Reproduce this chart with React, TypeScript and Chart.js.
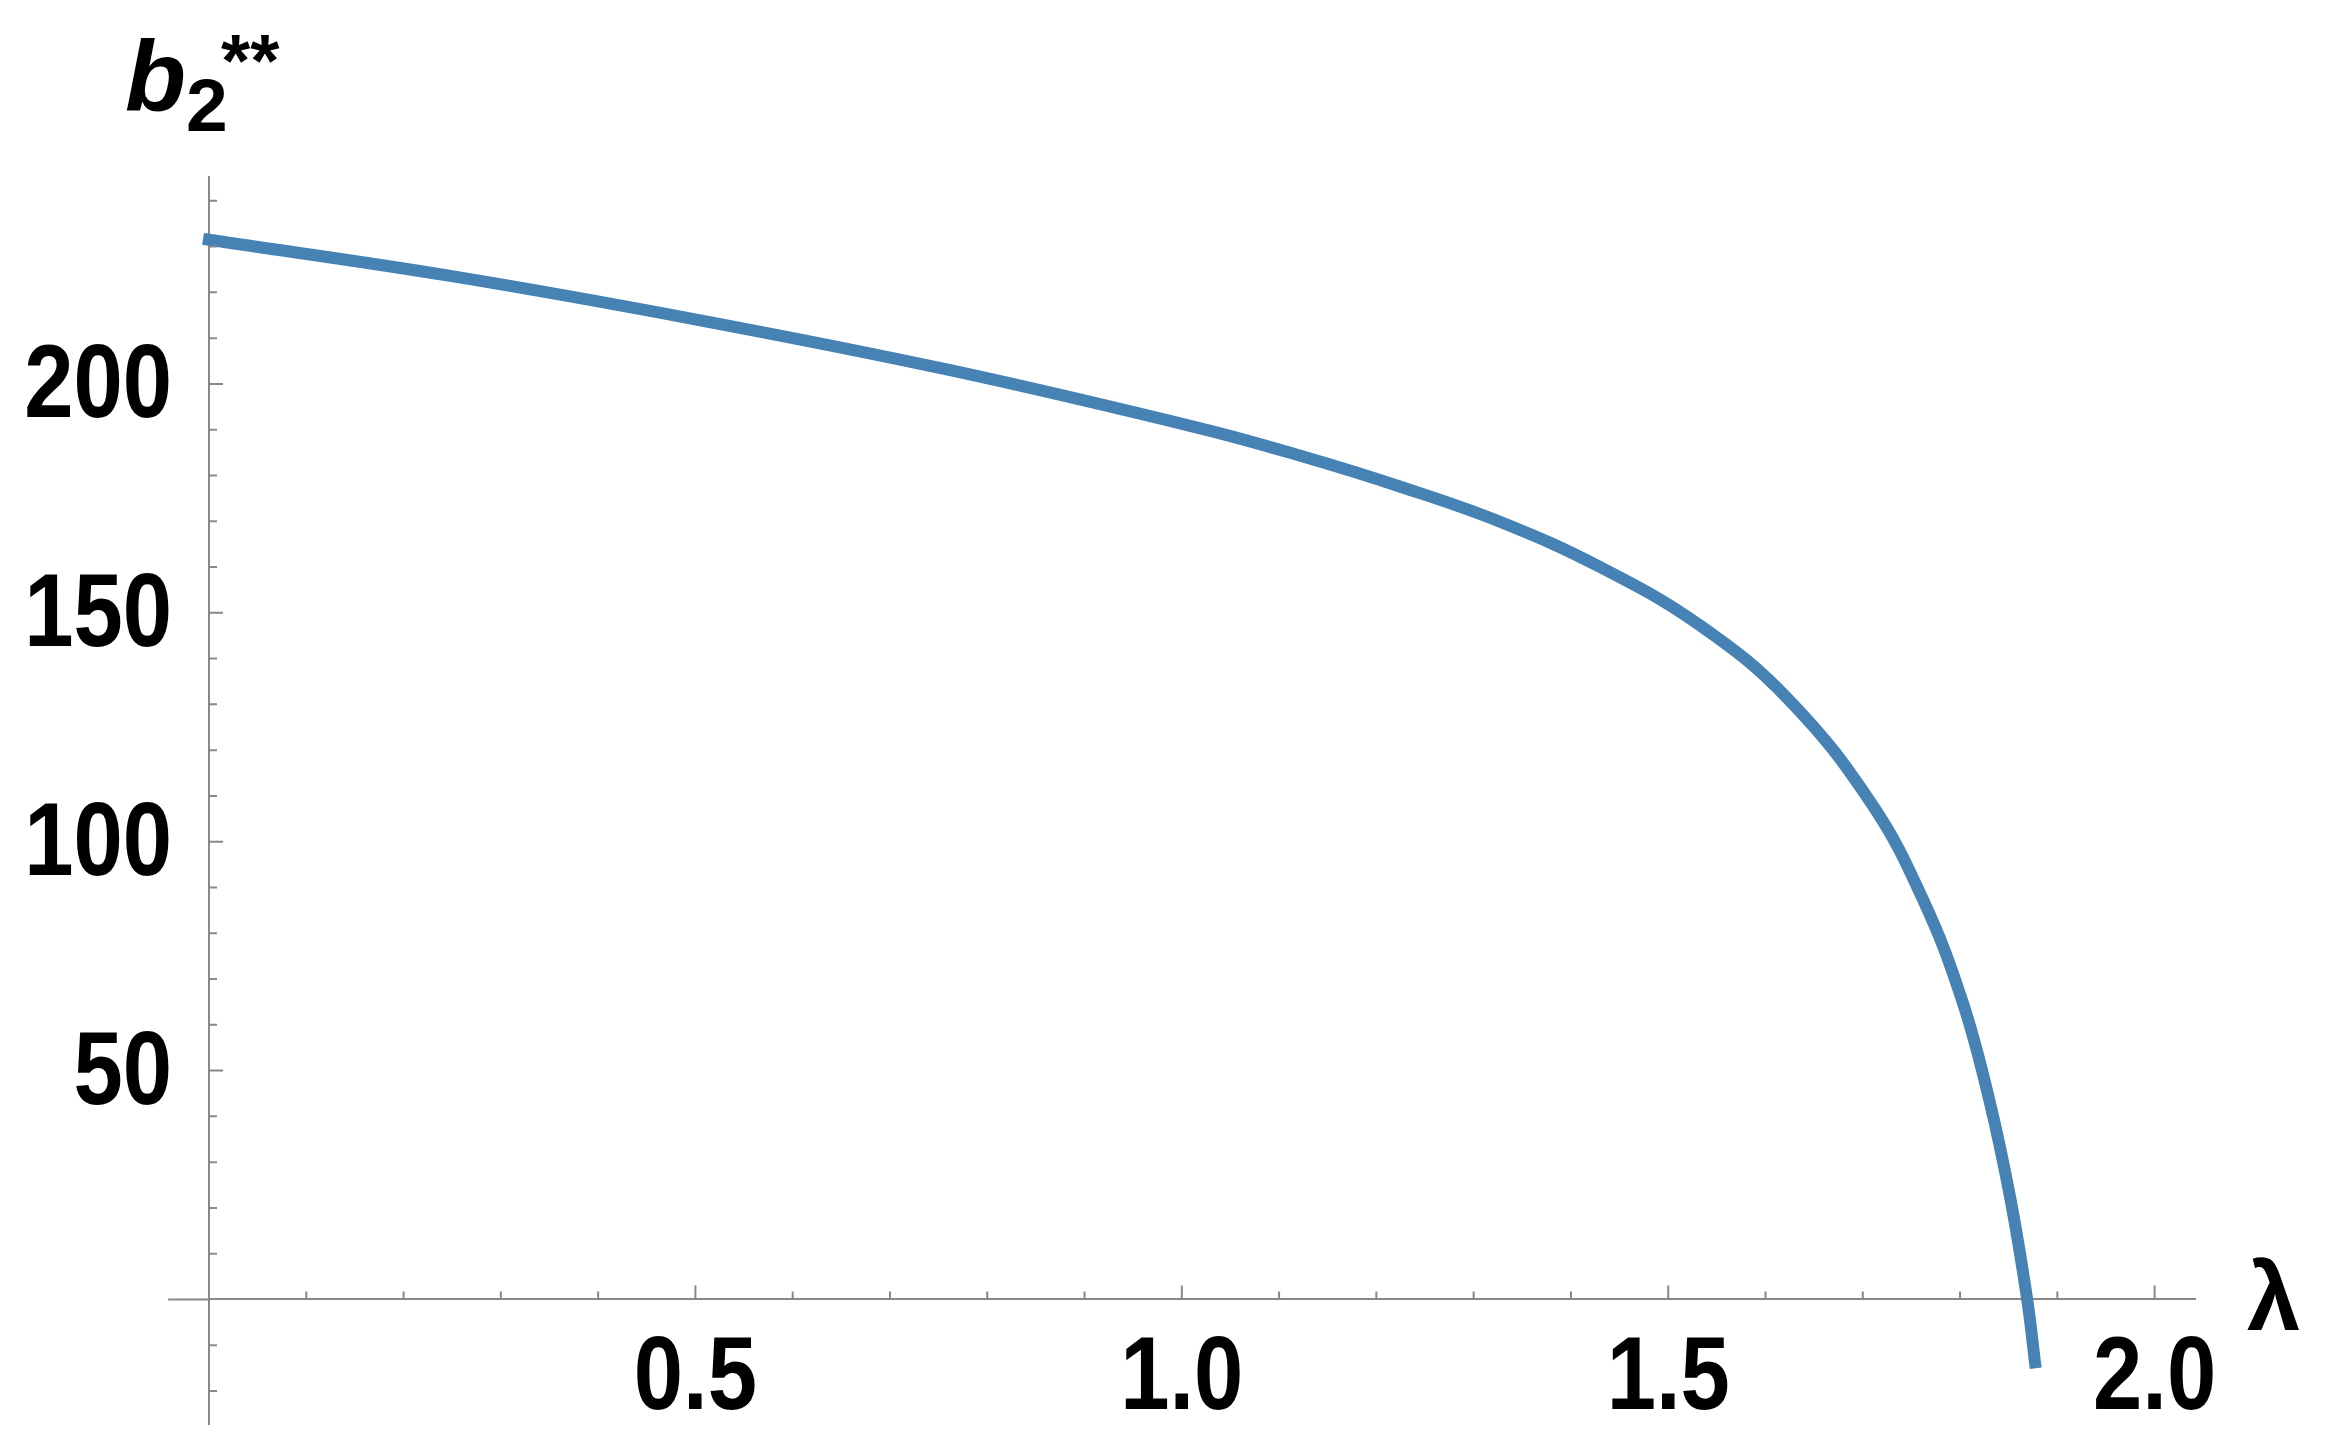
import React, { useEffect, useRef } from "react";
import { Chart, registerables } from "chart.js";

Chart.register(...registerables);

// ---- data ----
const lambdaValues = [0, 0.248, 0.505, 0.762, 1.019, 1.122, 1.224, 1.327, 1.43, 1.533, 1.624, 1.709, 1.762, 1.802, 1.83, 1.852, 1.869, 1.877];
const b2Values = [231.5, 223.6, 213.9, 203.0, 190.3, 184.3, 177.6, 169.9, 160.0, 147.2, 131.0, 108.3, 87.3, 65.4, 43.6, 21.7, 0, -13.7];

// ---- ticks ----
const xMajorTicks = [0.5, 1.0, 1.5, 2.0];
const xMinorTicks = [0.1, 0.2, 0.3, 0.4, 0.6, 0.7, 0.8, 0.9, 1.1, 1.2, 1.3, 1.4, 1.6, 1.7, 1.8, 1.9];
const yMajorTicks = [50, 100, 150, 200];
const yMinorTicks = [-20, -10, 10, 20, 30, 40, 60, 70, 80, 90, 110, 120, 130, 140, 160, 170, 180, 190, 210, 220, 230, 240];

// ---- axis ranges ----
const X_AXIS_START = -0.042;
const X_MIN = 0;
const X_MAX = 2.0415;
const Y_MIN = -27.2;
const Y_MAX = 245.2;

const AXIS_COLOR = "#888888";
const LINE_COLOR = "#4682b4";
const FONT = "'Liberation Sans', Arial, sans-serif";
const LABEL_SQUEEZE = 0.86;

function drawSqueezed(ctx: CanvasRenderingContext2D, text: string, x: number, y: number, align: CanvasTextAlign) {
  ctx.save();
  ctx.translate(x, y);
  ctx.scale(LABEL_SQUEEZE, 1);
  ctx.textAlign = align;
  ctx.fillText(text, 0, 0);
  ctx.restore();
}

const extrasPlugin = {
  id: "axisExtras",
  afterDraw(chart: any) {
    const { ctx, scales } = chart;
    const xs = scales.x;
    const ys = scales.y;
    const x0 = xs.getPixelForValue(0);
    const y0 = ys.getPixelForValue(0);
    ctx.save();
    ctx.strokeStyle = AXIS_COLOR;
    ctx.lineWidth = 2;
    ctx.beginPath();
    // x axis portion left of the y axis
    ctx.moveTo(xs.getPixelForValue(X_AXIS_START), y0);
    ctx.lineTo(x0, y0);
    // x ticks (inside, upward)
    for (const v of xMinorTicks) {
      const px = xs.getPixelForValue(v);
      ctx.moveTo(px, y0);
      ctx.lineTo(px, y0 - 8);
    }
    for (const v of xMajorTicks) {
      const px = xs.getPixelForValue(v);
      ctx.moveTo(px, y0);
      ctx.lineTo(px, y0 - 14);
    }
    // y ticks (inside, rightward)
    for (const v of yMinorTicks) {
      const py = ys.getPixelForValue(v);
      ctx.moveTo(x0, py);
      ctx.lineTo(x0 + 8, py);
    }
    for (const v of yMajorTicks) {
      const py = ys.getPixelForValue(v);
      ctx.moveTo(x0, py);
      ctx.lineTo(x0 + 14, py);
    }
    ctx.stroke();

    // tick labels (condensed bold, from the scales' own ticks)
    ctx.fillStyle = "#000";
    ctx.textBaseline = "alphabetic";
    ctx.font = `bold 103px ${FONT}`;
    xs.ticks.forEach((t: any) => {
      const label = t.label != null ? String(t.label) : Number(t.value).toFixed(1);
      drawSqueezed(ctx, label, xs.getPixelForValue(t.value), y0 + 110, "center");
    });
    ys.ticks.forEach((t: any) => {
      const label = t.label != null ? String(t.label) : String(t.value);
      drawSqueezed(ctx, label, x0 - 37, ys.getPixelForValue(t.value) + 33, "right");
    });

    // axis titles
    ctx.textAlign = "left";
    const top = chart.chartArea.top;
    ctx.font = `italic bold 100px ${FONT}`;
    ctx.fillText("b", x0 - 84, top - 66);
    ctx.font = `bold 75px ${FONT}`;
    ctx.fillText("2", x0 - 23, top - 46);
    ctx.fillText("**", x0 + 12, top - 91);
    ctx.font = `bold 96px ${FONT}`;
    ctx.fillText("λ", chart.chartArea.right + 52, y0 + 31);
    ctx.restore();
  },
};

export default function App() {
  const canvasRef = useRef<HTMLCanvasElement | null>(null);

  useEffect(() => {
    if (!canvasRef.current) return;
    const chart = new Chart(canvasRef.current, {
      type: "line",
      data: {
        datasets: [
          {
            data: lambdaValues.map((l, i) => ({ x: l, y: b2Values[i] })),
            borderColor: LINE_COLOR,
            borderWidth: 12,
            borderCapStyle: "square",
            borderJoinStyle: "round",
            pointRadius: 0,
            fill: false,
            tension: 0.4,
            clip: false,
          } as any,
        ],
      },
      options: {
        animation: false,
        responsive: false,
        events: [],
        layout: { padding: { left: 0, top: 177, right: 140, bottom: 17 } },
        plugins: { legend: { display: false }, tooltip: { enabled: false }, title: { display: false } },
        scales: {
          x: {
            type: "linear",
            position: { y: 0 } as any,
            min: X_MIN,
            max: X_MAX,
            z: 1,
            grid: { display: false, drawTicks: false },
            border: { display: true, color: AXIS_COLOR, width: 2 },
            afterBuildTicks: (s: any) => {
              s.ticks = xMajorTicks.map((value) => ({ value }));
            },
            ticks: {
              display: false,
              autoSkip: false,
              callback: (v: any) => Number(v).toFixed(1),
            },
          },
          y: {
            type: "linear",
            position: "left",
            min: Y_MIN,
            max: Y_MAX,
            z: 1,
            grid: { display: false, drawTicks: false },
            border: { display: true, color: AXIS_COLOR, width: 2 },
            afterBuildTicks: (s: any) => {
              s.ticks = yMajorTicks.map((value) => ({ value }));
            },
            afterFit: (s: any) => {
              s.width = 209;
              s.paddingTop = 0;
              s.paddingBottom = 0;
            },
            ticks: {
              display: false,
              autoSkip: false,
              callback: (v: any) => String(v),
            },
          },
        },
      },
      plugins: [extrasPlugin],
    });
    return () => chart.destroy();
  }, []);

  return (
    <div style={{ position: "fixed", left: 0, top: 0, width: 2335, height: 1441, background: "#fff" }}>
      <canvas ref={canvasRef} width={2335} height={1441} style={{ display: "block" }} />
    </div>
  );
}
